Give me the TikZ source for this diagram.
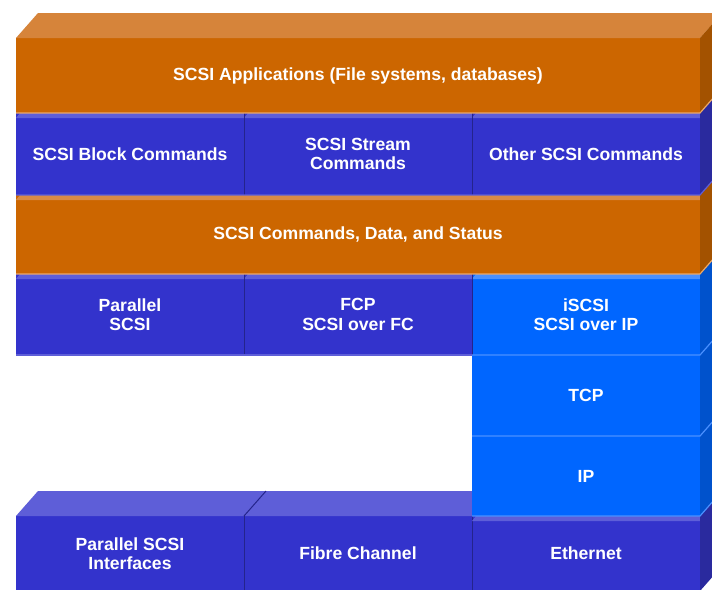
\documentclass[tikz,border=0pt]{standalone}
\usepackage{fontspec}
\setmainfont{Liberation Sans}
\definecolor{ofront}{HTML}{CC6600}
\definecolor{otop}{HTML}{D6843A}
\definecolor{oside}{HTML}{A35200}
\definecolor{ostrip}{HTML}{D98A45}
\definecolor{olight}{HTML}{EBA868}
\definecolor{bfront}{HTML}{3333CC}
\definecolor{btop}{HTML}{5E5ED8}
\definecolor{bside}{HTML}{2A2A9E}
\definecolor{bline}{HTML}{24248C}
\definecolor{lfront}{HTML}{0066FF}
\definecolor{ltop}{HTML}{4A90FF}
\definecolor{lside}{HTML}{0052CC}
\newcommand\sideface[2]{\fill[#2] (#1.north east) -- ++(22,-25) -- ([xshift=22pt,yshift=25pt]#1.south east) -- (#1.south east) -- cycle;}
\newcommand\topface[2]{\fill[#2] (#1.north west) -- ++(22,-25) -- ([xshift=22pt,yshift=25pt]#1.north east) -- (#1.north east) -- cycle;}
\newcommand\stripface[2]{\fill[#2] ([yshift=-5pt]#1.north west) -- ([xshift=4pt]#1.north west) -- (#1.north east) -- ([yshift=-5pt]#1.north east) -- cycle;}
\newcommand\edgeline[2]{\draw[#2, line width=1.2pt] (#1.south west) -- (#1.south east) -- ++(22,-25);}
\begin{document}
\begin{tikzpicture}[x=1pt,y=-1pt,
  layer/.style={anchor=north west, inner sep=0pt, outer sep=0pt, align=center,
    text=white, font=\bfseries\fontsize{17.6}{19.5}\selectfont},
  orange/.style={layer, fill=ofront},
  blue/.style={layer, fill=bfront},
  lblue/.style={layer, fill=lfront}]
\clip (0,0) rectangle (712,589);
\fill[white] (0,0) rectangle (712,589);
% top layer
\node[orange, minimum width=684pt, minimum height=75pt] (apps) at (16,38) {SCSI Applications (File systems, databases)};
\topface{apps}{otop}
\sideface{apps}{oside}
% command sets
\node[blue, minimum width=228pt, minimum height=82pt] (blk) at (16,113) {SCSI Block Commands};
\node[blue, minimum width=228pt, minimum height=82pt] (strm) at (244,113) {SCSI Stream\\Commands};
\node[blue, minimum width=228pt, minimum height=82pt] (oth) at (472,113) {Other SCSI Commands};
\foreach \n in {blk,strm,oth}{\stripface{\n}{btop}}
\sideface{oth}{bside}
\draw[bline, line width=1pt] (blk.north east) -- (blk.south east);
\draw[bline, line width=1pt] (strm.north east) -- (strm.south east);
\edgeline{apps}{olight}
% commands, data, status
\node[orange, minimum width=684pt, minimum height=79pt] (cmd) at (16,195) {SCSI Commands, Data, and Status};
\stripface{cmd}{ostrip}
\sideface{cmd}{oside}
\draw[btop, line width=1.2pt] (blk.south west) -- (oth.south east) -- ++(22,-25);
% transport protocols
\node[blue, minimum width=228pt, minimum height=81pt] (par) at (16,274) {Parallel\\SCSI};
\node[blue, minimum width=228pt, minimum height=81pt] (fcp) at (244,274) {FCP\\SCSI over FC};
\node[lblue, minimum width=228pt, minimum height=81pt] (iscsi) at (472,274) {iSCSI\\SCSI over IP};
\stripface{par}{btop}
\stripface{fcp}{btop}
\stripface{iscsi}{ltop}
\sideface{iscsi}{lside}
\draw[bline, line width=1pt] (par.north east) -- (par.south east);
\draw[bline, line width=1pt] (fcp.north east) -- (fcp.south east);
\edgeline{cmd}{olight}
\draw[btop, line width=1.2pt] (par.south west) -- (fcp.south east);
% bottom interfaces
\node[blue, minimum width=228pt, minimum height=75pt] (psi) at (16,516) {Parallel SCSI\\Interfaces};
\node[blue, minimum width=228pt, minimum height=75pt] (fc) at (244,516) {Fibre Channel};
\node[blue, minimum width=228pt, minimum height=75pt] (eth) at (472,516) {Ethernet};
\topface{psi}{btop}
\topface{fc}{btop}
\draw[bline, line width=1pt] (psi.north east) -- ++(22,-25);
\draw[bline, line width=1pt] (psi.north east) -- (psi.south east);
\draw[bline, line width=1pt] (fc.north east) -- (fc.south east);
\stripface{eth}{btop}
\sideface{eth}{bside}
% TCP / IP
\node[lblue, minimum width=228pt, minimum height=81pt] (tcp) at (472,355) {TCP};
\node[lblue, minimum width=228pt, minimum height=80pt] (ip) at (472,436) {IP};
\sideface{tcp}{lside}
\sideface{ip}{lside}
\edgeline{iscsi}{ltop}
\edgeline{tcp}{ltop}
\edgeline{ip}{ltop}
\end{tikzpicture}
\end{document}
